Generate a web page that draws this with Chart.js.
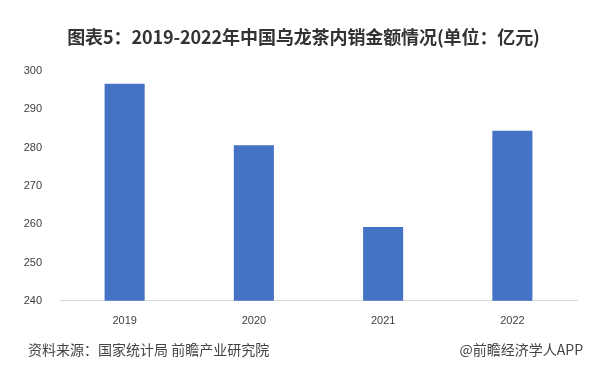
<!DOCTYPE html>
<html>
<head>
<meta charset="utf-8">
<script src="https://cdn.jsdelivr.net/npm/chart.js@4"></script>
<style>
  body { margin: 0; background: #fff; }
  #wrap { position: relative; width: 591px; height: 389px; }
  #title { position: absolute; left: 8px; top: 23px; width: 591px; text-align: center;
           font: bold 18px "Noto Sans CJK SC", sans-serif; color: #333; letter-spacing: -0.1px; }
  #source { position: absolute; left: 28px; top: 339px; font: 14px "Noto Sans CJK SC", sans-serif; color: #444; }
  #brand { position: absolute; right: 8px; top: 339px; font: 14px "Noto Sans CJK SC", sans-serif; color: #444; }
</style>
</head>
<body>
<div id="wrap">
  <canvas id="chart" width="591" height="389"></canvas>
  <div id="title">图表5：2019-2022年中国乌龙茶内销金额情况(单位：亿元)</div>
  <div id="source">资料来源：国家统计局 前瞻产业研究院</div>
  <div id="brand">@前瞻经济学人APP</div>
</div>
<script>
// years and domestic sales value (亿元)
var years = ['2019', '2020', '2021', '2022'];
var salesValue = [296.7, 280.6, 259.3, 284.4];
var yTicks = [240, 250, 260, 270, 280, 290, 300];

var ctx = document.getElementById('chart').getContext('2d');

window.salesChart = new Chart(ctx, {
  type: 'bar',
  data: {
    labels: years,
    datasets: [{
      label: '内销金额',
      data: salesValue,
      backgroundColor: '#4472c4',
      categoryPercentage: 1,
      barPercentage: 0.31
    }]
  },
  options: {
    responsive: false,
    animation: false,
    layout: {
      padding: { top: 71, right: 14, bottom: 55, left: 0 }
    },
    plugins: {
      legend: { display: false },
      tooltip: { enabled: false }
    },
    scales: {
      x: {
        grid: { display: false },
        border: { color: '#d9d9d9' },
        ticks: {
          color: '#404040',
          padding: 6,
          font: { family: 'Liberation Sans', size: 11 }
        }
      },
      y: {
        min: yTicks[0],
        max: yTicks[yTicks.length - 1],
        grid: { display: false },
        border: { display: false },
        afterBuildTicks: function (axis) {
          axis.ticks = yTicks.map(function (v) { return { value: v }; });
        },
        afterFit: function (axis) {
          axis.width = 60;
        },
        ticks: {
          color: '#404040',
          padding: 10,
          font: { family: 'Liberation Sans', size: 11 }
        }
      }
    }
  }
});
</script>
</body>
</html>
